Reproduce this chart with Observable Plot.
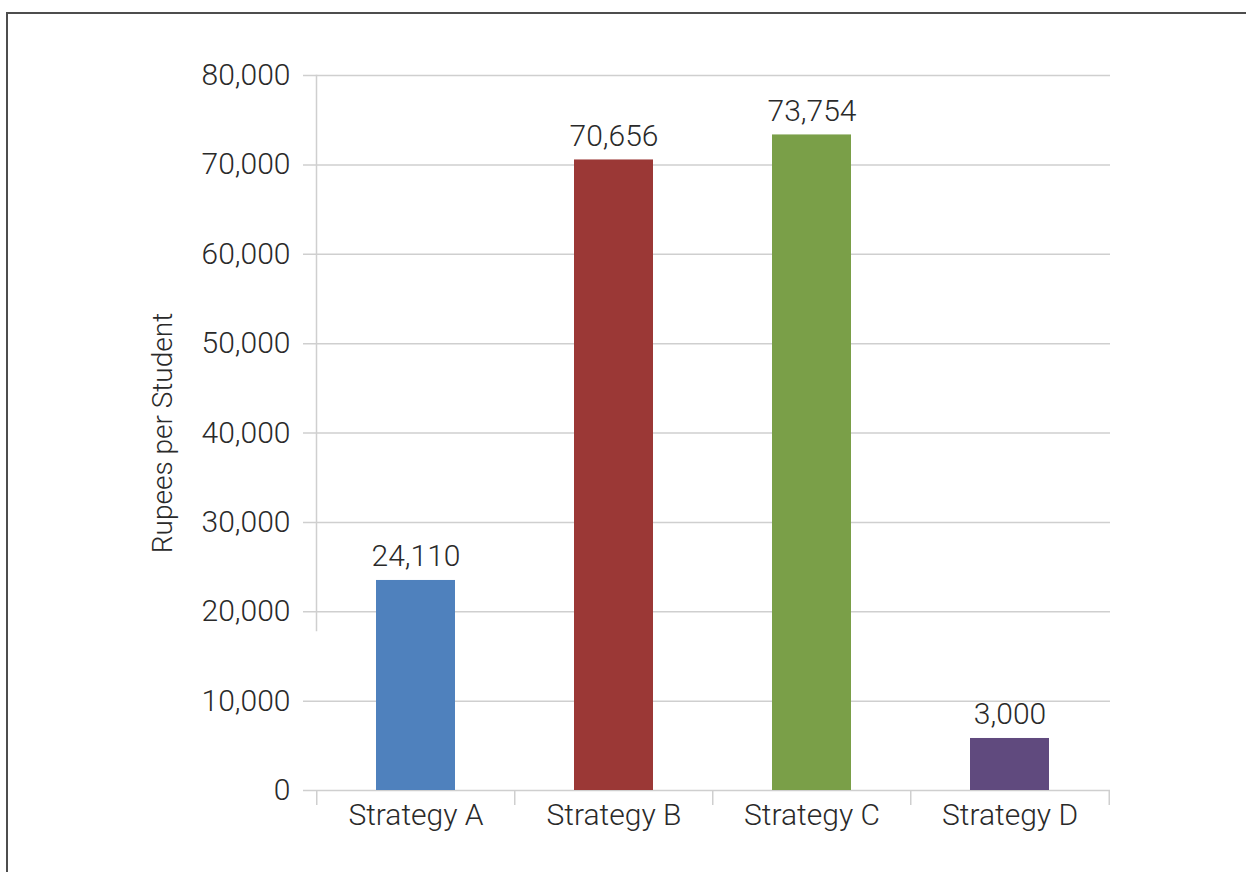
<!DOCTYPE html>
<html>
<head>
<meta charset="utf-8">
<script src="https://cdn.jsdelivr.net/npm/d3@7"></script>
<script src="https://cdn.jsdelivr.net/npm/@observablehq/plot@0.6"></script>
<style>
  html, body { margin: 0; padding: 0; background: #fff; }
  #wrap { position: relative; width: 1246px; height: 872px; overflow: hidden; }
  #border { position: absolute; left: 6px; top: 12px; width: 1400px; height: 1000px;
            border-left: 2px solid #4d4d4d; border-top: 2px solid #4d4d4d; }
  #chart { position: absolute; left: 0; top: 0; }
</style>
</head>
<body>
<div id="wrap"><div id="chart"></div><div id="border"></div></div>
<script>
const categories = ["Strategy A", "Strategy B", "Strategy C", "Strategy D"];
const barValues = [23500, 70550, 73350, 5820];
const labelTexts = ["24,110", "70,656", "73,754", "3,000"];
const barColors = ["#4F81BD", "#9B3836", "#7A9F48", "#604A7E"];
const yTicks = [0, 10000, 20000, 30000, 40000, 50000, 60000, 70000, 80000];
const yLabel = "Rupees per Student";

const data = categories.map((c, i) => ({cat: c, value: barValues[i], label: labelTexts[i], color: barColors[i]}));

const W = 1246, H = 872;
const mL = 316, mR = 136, mT = 75, mB = 82;
const step = (W - mL - mR) / categories.length;

const textColor = "#2a2a2a";
const gridColor = "#cfcfcf";
const fmt = d3.format(",d");

const plot = Plot.plot({
  width: W,
  height: H,
  marginLeft: mL,
  marginRight: mR,
  marginTop: mT,
  marginBottom: mB,
  style: {fontFamily: "Roboto, 'Liberation Sans', sans-serif", fontSize: "30px", fontWeight: 300, color: textColor, background: "transparent"},
  x: {domain: categories, paddingInner: 0.6, paddingOuter: 0.3, axis: null},
  y: {domain: [0, 80000], axis: null},
  marks: [
    Plot.gridY(yTicks, {stroke: gridColor, strokeOpacity: 1, strokeWidth: 1.5, insetLeft: -13}),
    Plot.frame({anchor: "left", stroke: gridColor, strokeWidth: 1.5, insetBottom: 160}),
    Plot.ruleX(categories, {x: d => d, y1: 0, y2: 0, dx: -step / 2, insetBottom: -15, stroke: gridColor, strokeWidth: 1.5}),
    Plot.ruleX([categories[categories.length - 1]], {x: d => d, y1: 0, y2: 0, dx: step / 2, insetBottom: -15, stroke: gridColor, strokeWidth: 1.5}),
    Plot.barY(data, {x: "cat", y: "value", fill: "color"}),
    Plot.text(data, {x: "cat", y: "value", text: "label", dy: -14, lineAnchor: "bottom", fill: textColor, fontSize: 30}),
    Plot.axisY({ticks: yTicks, tickFormat: fmt, tickSize: 0, tickPadding: 26, fill: textColor, fontSize: 30, label: null}),
    Plot.axisX({tickSize: 0, tickPadding: 13, fill: textColor, fontSize: 30, label: null}),
    Plot.text([yLabel], {frameAnchor: "left", dx: -153, rotate: -90, text: d => d, fill: textColor, fontSize: 28, textAnchor: "middle", lineAnchor: "middle"})
  ]
});
document.getElementById("chart").appendChild(plot);
</script>
</body>
</html>
